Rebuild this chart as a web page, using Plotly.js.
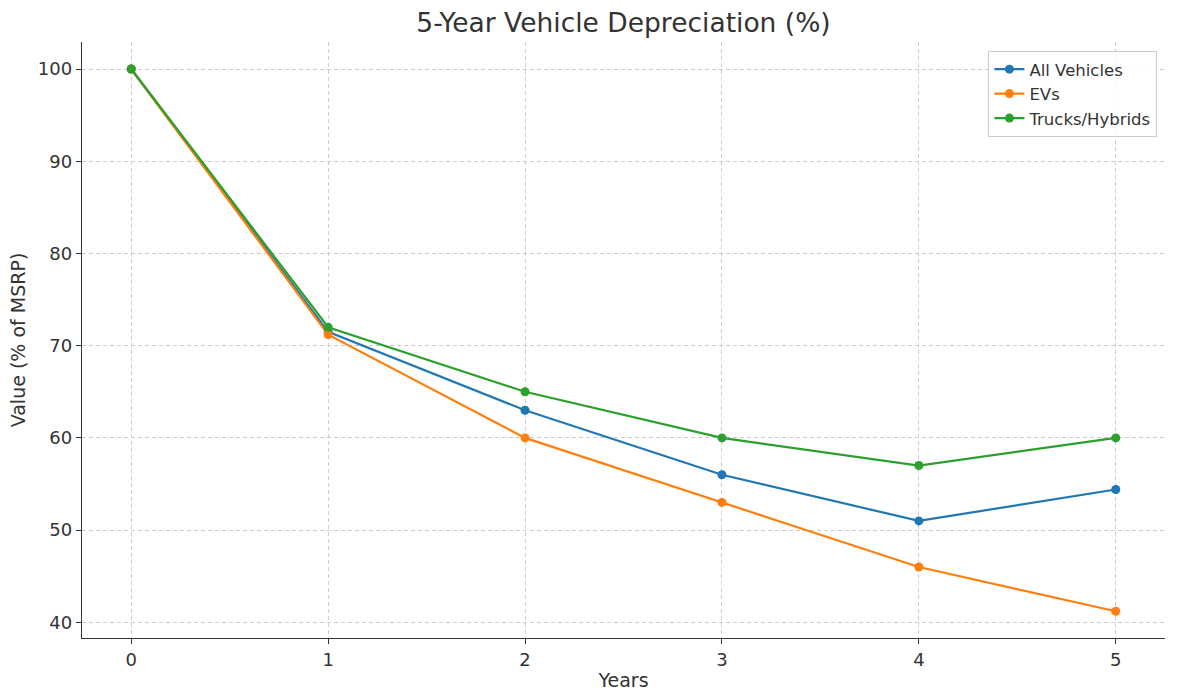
<!DOCTYPE html>
<html>
<head>
<meta charset="utf-8">
<script src="https://cdn.plot.ly/plotly-3.0.1.min.js"></script>
<style>body{margin:0;background:#fff;}#chart{width:1177px;height:699px;}</style>
</head>
<body>
<div id="chart"></div>
<script>
const years = [0, 1, 2, 3, 4, 5];
const allVehicles = [100, 71.5, 63, 56, 51, 54.4];
const evs = [100, 71.2, 60, 53, 46, 41.2];
const trucksHybrids = [100, 72, 65, 60, 57, 60];
const seriesNames = ["All Vehicles", "EVs", "Trucks/Hybrids"];
const colors = ["#1f77b4", "#ff7f0e", "#2ca02c"];
const yTicks = [40, 50, 60, 70, 80, 90, 100];

const data = [allVehicles, evs, trucksHybrids].map((vals, i) => ({
  x: years, y: vals, name: seriesNames[i], type: "scatter", mode: "lines+markers",
  line: {color: colors[i], width: 2.2}, marker: {color: colors[i], size: 9}
}));

const font = "DejaVu Sans, sans-serif";
const layout = {
  width: 1177, height: 699,
  margin: {l: 82, r: 12, t: 42, b: 61},
  paper_bgcolor: "#fff", plot_bgcolor: "#fff",
  font: {family: font, color: "#333", size: 17},
  title: {text: "5-Year Vehicle Depreciation (%)", font: {size: 26.5, color: "#333", family: font}, xref: "paper", x: 0.5, xanchor: "center", y: 0.967, yanchor: "middle"},
  xaxis: {
    range: [-0.25, 5.25], tickvals: years, ticktext: years.map(String),
    showgrid: true, gridcolor: "#cccccc", griddash: "4px,3px", gridwidth: 1,
    zeroline: false, showline: true, linecolor: "#333", linewidth: 1.3, mirror: false,
    ticks: "outside", ticklen: 5, tickcolor: "#333",
    title: {text: "Years", font: {size: 19, color: "#333"}, standoff: 4},
    tickfont: {size: 18, color: "#333"}
  },
  yaxis: {
    range: [38.3, 102.93], tickvals: yTicks,
    showgrid: true, gridcolor: "#cccccc", griddash: "4px,3px", gridwidth: 1,
    zeroline: false, showline: true, linecolor: "#333", linewidth: 1.3,
    ticks: "outside", ticklen: 5, tickcolor: "#333",
    title: {text: "Value (% of MSRP)", font: {size: 19, color: "#333"}, standoff: 7},
    tickfont: {size: 18, color: "#333"}
  },
  legend: {
    x: 0.993, xanchor: "right", y: 0.985, yanchor: "top",
    bgcolor: "rgba(255,255,255,0.85)", bordercolor: "#cccccc", borderwidth: 1,
    font: {size: 16.5, color: "#333"}, tracegroupgap: 0
  },
  showlegend: true
};
Plotly.newPlot("chart", data, layout, {displayModeBar: false, staticPlot: true});
</script>
</body>
</html>
